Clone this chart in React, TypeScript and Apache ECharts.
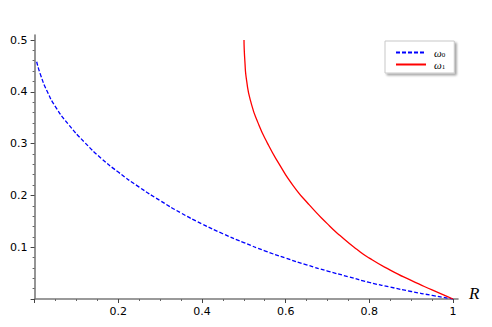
import React, { useEffect, useRef } from 'react';
import * as echarts from 'echarts';

// ω0 (blue, dashed)
const omega0R = [0.005, 0.015, 0.03, 0.05, 0.08, 0.12, 0.16, 0.2, 0.25, 0.3, 0.35, 0.4, 0.45, 0.5, 0.55, 0.6, 0.65, 0.7, 0.75, 0.8, 0.85, 0.9, 0.95, 1];
const omega0V = [0.458, 0.431, 0.401, 0.371, 0.338, 0.302, 0.271, 0.245, 0.216, 0.19, 0.166, 0.145, 0.126, 0.109, 0.093, 0.079, 0.066, 0.054, 0.043, 0.032, 0.023, 0.0145, 0.007, 0];

// ω1 (red, solid)
const omega1R = [0.5005, 0.5025, 0.507, 0.517, 0.534, 0.557, 0.585, 0.617, 0.655, 0.7, 0.73, 0.77, 0.8, 0.85, 0.9, 0.95, 1];
const omega1V = [0.5, 0.46, 0.42, 0.38, 0.34, 0.3, 0.26, 0.22, 0.183, 0.145, 0.1225, 0.096, 0.079, 0.0558, 0.0358, 0.0175, 0];

const seriesNames = ['ω0', 'ω1'];
const xTickLabels = ['0.2', '0.4', '0.6', '0.8', '1'];
const yTickLabels = ['0.1', '0.2', '0.3', '0.4', '0.5'];
const xAxisName = 'R';

const zip = (a: number[], b: number[]) => a.map((v, i) => [v, b[i]]);

export default function App() {
  const ref = useRef<HTMLDivElement>(null);
  useEffect(() => {
    document.body.style.margin = '0';
    const chart = echarts.init(ref.current!, null, { renderer: 'svg' });
    const labelFont = { fontFamily: 'DejaVu Sans', fontSize: 11, color: '#000' };
    chart.setOption({
      animation: false,
      backgroundColor: '#fff',
      grid: [
        { left: 34.6, right: 39, top: 40, bottom: 28 },
        { left: 34.6, right: 34, top: 35, bottom: 28 },
      ],
      xAxis: [
        {
          gridIndex: 0,
          type: 'value',
          min: 0,
          max: 1,
          interval: 0.2,
          axisLine: { show: false },
          axisTick: { show: true, length: 4, lineStyle: { color: '#444', width: 1 } },
          minorTick: { show: true, splitNumber: 4, length: 2, lineStyle: { color: '#666', width: 1 } },
          axisLabel: {
            ...labelFont,
            margin: 7,
            formatter: (v: number) => {
              const i = Math.round(v / 0.2) - 1;
              return i >= 0 && i < xTickLabels.length ? xTickLabels[i] : '';
            },
          },
          splitLine: { show: false },
        },
        {
          gridIndex: 1,
          type: 'value',
          min: 0,
          max: 1,
          position: 'bottom',
          axisLine: { show: true, onZero: false, lineStyle: { color: '#7a7a7a', width: 1.6 } },
          axisTick: { show: false },
          axisLabel: { show: false },
          splitLine: { show: false },
        },
      ],
      yAxis: [
        {
          gridIndex: 0,
          type: 'value',
          min: 0,
          max: 0.5,
          interval: 0.1,
          axisLine: { show: false },
          axisTick: { show: true, length: 4, lineStyle: { color: '#444', width: 1 } },
          minorTick: { show: true, splitNumber: 5, length: 2, lineStyle: { color: '#666', width: 1 } },
          axisLabel: {
            ...labelFont,
            margin: 7,
            formatter: (v: number) => {
              const i = Math.round(v / 0.1) - 1;
              return i >= 0 && i < yTickLabels.length ? yTickLabels[i] : '';
            },
          },
          splitLine: { show: false },
        },
        {
          gridIndex: 1,
          type: 'value',
          min: 0,
          max: 1,
          position: 'left',
          axisLine: { show: true, onZero: false, lineStyle: { color: '#7a7a7a', width: 1.6 } },
          axisTick: { show: false },
          axisLabel: { show: false },
          splitLine: { show: false },
        },
      ],
      legend: {
        left: 385,
        top: 41,
        orient: 'vertical',
        data: seriesNames,
        itemWidth: 30,
        itemHeight: 10,
        itemGap: 1,
        padding: [6, 9, 3, 10],
        backgroundColor: '#fff',
        borderColor: '#c8c8c8',
        borderWidth: 1,
        shadowColor: 'rgba(0,0,0,0.35)',
        shadowBlur: 2,
        shadowOffsetX: 2,
        shadowOffsetY: 2,
        itemStyle: { opacity: 0 },
        formatter: (name: string) => `{w|${name.charAt(0)}}{s|${name.slice(1)}}`,
        textStyle: {
          color: '#000',
          rich: {
            w: { fontFamily: 'Liberation Serif', fontStyle: 'italic', fontSize: 11, lineHeight: 11, padding: [0, 0, 0, 3] },
            s: { fontFamily: 'Liberation Serif', fontSize: 7, lineHeight: 6, verticalAlign: 'bottom' },
          },
        },
      },
      graphic: [
        {
          type: 'text',
          left: 469,
          top: 285,
          style: { text: xAxisName, font: 'italic 17px "Liberation Serif"', fill: '#000' },
        },
      ],
      series: [
        {
          name: seriesNames[0],
          type: 'line',
          xAxisIndex: 0,
          yAxisIndex: 0,
          data: zip(omega0R, omega0V),
          showSymbol: false,
          symbol: 'none',
          smooth: 0.6,
          lineStyle: { color: '#0000ff', width: 1.3, type: [4, 2] },
          itemStyle: { color: '#0000ff' },
        },
        {
          name: seriesNames[1],
          type: 'line',
          xAxisIndex: 0,
          yAxisIndex: 0,
          data: zip(omega1R, omega1V),
          showSymbol: false,
          symbol: 'none',
          smooth: 0.6,
          lineStyle: { color: '#ff0000', width: 1.3 },
          itemStyle: { color: '#ff0000' },
        },
      ],
    });
    return () => chart.dispose();
  }, []);
  return <div ref={ref} style={{ width: 492, height: 327 }} />;
}
